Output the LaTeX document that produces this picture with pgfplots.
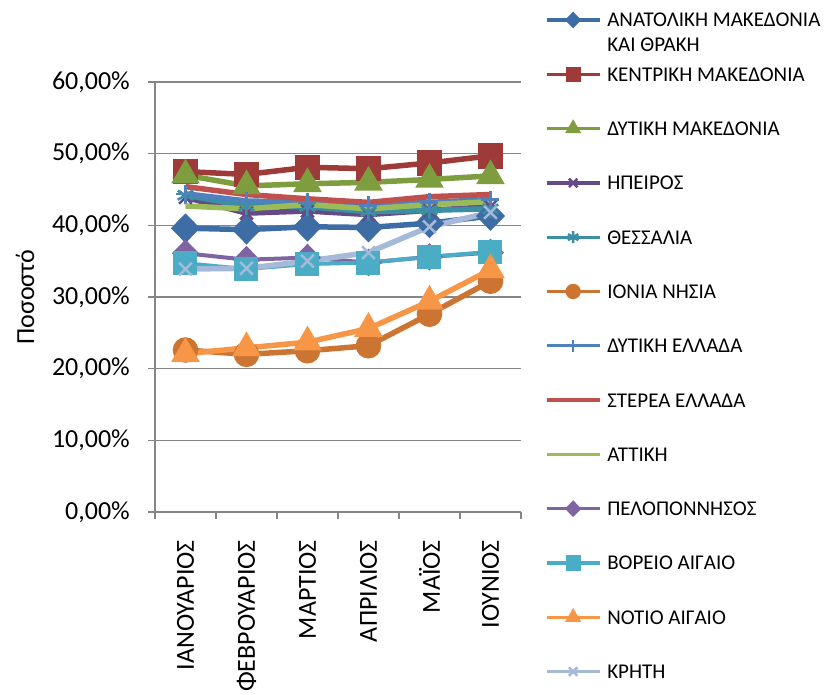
\documentclass[border=0pt]{standalone}
\usepackage{fontspec}
\setmainfont{Carlito}
\usepackage{pgfplots}
\pgfplotsset{compat=1.18}
\definecolor{axgray}{HTML}{868686}
\definecolor{c1}{HTML}{3E6DA6}
\definecolor{c2}{HTML}{9E3A38}
\definecolor{c3}{HTML}{7E9D3E}
\definecolor{c4}{HTML}{644A86}
\definecolor{c5}{HTML}{3A8FA5}
\definecolor{c6}{HTML}{CC7533}
\definecolor{c7}{HTML}{4F81BD}
\definecolor{c8}{HTML}{C0504D}
\definecolor{c9}{HTML}{9BBB59}
\definecolor{c10}{HTML}{8064A2}
\definecolor{c11}{HTML}{4BACC6}
\definecolor{c12}{HTML}{F79646}
\definecolor{c13}{HTML}{A5B9D9}
\begin{document}
\begin{tikzpicture}
\useasboundingbox (-155pt,-183pt) rectangle (672pt,512pt);
\begin{axis}[
  at={(0,0)}, anchor=south west,
  scale only axis, width=366pt, height=430pt,
  xmin=-0.5, xmax=5.5, ymin=0, ymax=60,
  axis lines=left,
  axis line style={-, draw=axgray, line width=1.3pt},
  xtick={-0.5,0.5,1.5,2.5,3.5,4.5,5.5},
  x tick label as interval,
  xticklabels={ΙΑΝΟΥΑΡΙΟΣ,ΦΕΒΡΟΥΑΡΙΟΣ,ΜΑΡΤΙΟΣ,ΑΠΡΙΛΙΟΣ,ΜΑΪΟΣ,ΙΟΥΝΙΟΣ},
  ytick={0,10,20,30,40,50,60},
  yticklabels={{0,00\%},{10,00\%},{20,00\%},{30,00\%},{40,00\%},{50,00\%},{60,00\%}},
  tick align=outside, major tick length=7pt,
  tick style={draw=axgray, line width=1.3pt},
  ymajorgrids, grid style={draw=axgray, line width=1.3pt},
  tick label style={font=\fontsize{26}{30}\selectfont},
  xticklabel style={rotate=90, anchor=east, inner sep=0pt},
  xticklabel shift=21pt,
  yticklabel style={anchor=east, inner sep=0pt, xshift=-18pt},
  ylabel={Ποσοστό},
  every axis y label/.style={at={(axis description cs:-0.355,0.5)}, rotate=90, anchor=center, font=\fontsize{26}{30}\selectfont},
  legend style={at={(axis description cs:1.0656,1.1605)}, anchor=north west,
    draw=none, fill=none, inner sep=0pt, outer sep=0pt, row sep=40.3pt,
    font=\fontsize{21}{25}\selectfont,
    nodes={inner xsep=6pt, inner ysep=0pt, text height=14pt, text depth=0pt}},
  legend cell align=left,
  legend image code/.code={\draw[mark repeat=2, mark phase=2, #1] plot coordinates {(0pt,0pt) (26.5pt,0pt) (53pt,0pt)};},
  legend image post style={line width=3.3pt, mark size=6pt},
  every axis plot/.append style={line width=5.5pt},
  mark options={solid},
]
\addplot[color=c1, mark=diamond*, mark size=11pt, mark options={solid, xscale=1.3}] coordinates {(0,39.6) (1,39.4) (2,39.8) (3,39.7) (4,40.3) (5,41.3)};
\addlegendentry{\begin{tabular}[t]{@{}l@{}}ΑΝΑΤΟΛΙΚΗ ΜΑΚΕΔΟΝΙΑ\\ΚΑΙ ΘΡΑΚΗ\end{tabular}}
\addplot[color=c2, mark=square*, mark size=10pt] coordinates {(0,47.5) (1,47.1) (2,48.1) (3,47.9) (4,48.7) (5,49.7)};
\addlegendentry{ΚΕΝΤΡΙΚΗ ΜΑΚΕΔΟΝΙΑ}
\addplot[color=c3, mark=triangle*, mark size=11pt] coordinates {(0,47.0) (1,45.5) (2,45.8) (3,46.0) (4,46.4) (5,46.9)};
\addlegendentry{ΔΥΤΙΚΗ ΜΑΚΕΔΟΝΙΑ}
\addplot[color=c4, mark=x, mark size=9pt, mark options={solid, line width=2.5pt}] coordinates {(0,43.9) (1,41.7) (2,42.0) (3,41.5) (4,42.1) (5,42.6)};
\addlegendentry{ΗΠΕΙΡΟΣ}
\addplot[color=c5, mark=asterisk, mark size=9pt, mark options={solid, line width=2.5pt}] coordinates {(0,44.2) (1,42.7) (2,42.6) (3,41.9) (4,42.1) (5,42.3)};
\addlegendentry{ΘΕΣΣΑΛΙΑ}
\addplot[color=c6, mark=*, mark size=10pt] coordinates {(0,22.6) (1,22.0) (2,22.5) (3,23.2) (4,27.6) (5,32.2)};
\addlegendentry{ΙΟΝΙΑ ΝΗΣΙΑ}
\addplot[color=c7, mark=+, mark size=9pt, mark options={solid, line width=2.5pt}] coordinates {(0,44.4) (1,43.4) (2,43.2) (3,42.8) (4,43.2) (5,43.6)};
\addlegendentry{ΔΥΤΙΚΗ ΕΛΛΑΔΑ}
\addplot[color=c8, no markers] coordinates {(0,45.4) (1,44.3) (2,43.7) (3,43.2) (4,44.0) (5,44.3)};
\addlegendentry{ΣΤΕΡΕΑ ΕΛΛΑΔΑ}
\addplot[color=c9, no markers] coordinates {(0,42.7) (1,42.3) (2,42.9) (3,42.3) (4,42.9) (5,43.3)};
\addlegendentry{ΑΤΤΙΚΗ}
\addplot[color=c10, mark=diamond*, mark size=11pt, mark options={solid, xscale=1.3}, line width=4pt] coordinates {(0,36.1) (1,35.2) (2,35.5) (3,34.8) (4,35.6) (5,36.2)};
\addlegendentry{ΠΕΛΟΠΟΝΝΗΣΟΣ}
\addplot[color=c11, mark=square*, mark size=10pt, line width=4pt] coordinates {(0,34.7) (1,33.9) (2,34.6) (3,34.8) (4,35.6) (5,36.3)};
\addlegendentry{ΒΟΡΕΙΟ ΑΙΓΑΙΟ}
\addplot[color=c12, mark=triangle*, mark size=11pt] coordinates {(0,22.1) (1,22.9) (2,23.7) (3,25.6) (4,29.4) (5,33.8)};
\addlegendentry{ΝΟΤΙΟ ΑΙΓΑΙΟ}
\addplot[color=c13, mark=x, mark size=9pt, mark options={solid, line width=2.5pt}] coordinates {(0,33.9) (1,34.0) (2,35.0) (3,36.2) (4,39.8) (5,41.8)};
\addlegendentry{ΚΡΗΤΗ}
\end{axis}
\end{tikzpicture}
\end{document}
